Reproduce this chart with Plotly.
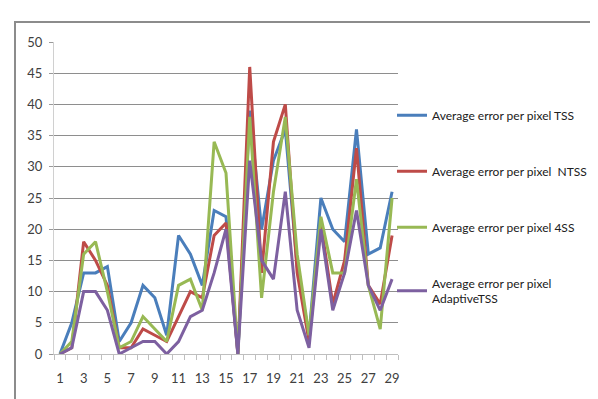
import plotly.graph_objects as go

frames = list(range(1, 30))
tss = [0, 5, 13, 13, 14, 2, 5, 11, 9, 3, 19, 16, 11, 23, 22, 0, 39, 20, 31, 36, 14, 3, 25, 20, 18, 36, 16, 17, 26]
ntss = [0, 1, 18, 15, 11, 1, 1, 4, 3, 2, 6, 10, 9, 19, 21, 0, 46, 13, 34, 40, 13, 2, 21, 8, 15, 33, 11, 8, 19]
fss = [0, 2, 16, 18, 10, 1, 2, 6, 4, 2, 11, 12, 7, 34, 29, 0, 38, 9, 26, 38, 16, 3, 22, 13, 13, 28, 11, 4, 25]
adaptive = [0, 1, 10, 10, 7, 0, 1, 2, 2, 0, 2, 6, 7, 13, 20, 0, 31, 15, 12, 26, 7, 1, 20, 7, 13, 23, 11, 7, 12]

names = [
    "Average error per pixel TSS",
    "Average error per pixel\u00a0\u00a0NTSS",
    "Average error per pixel 4SS",
    "Average error per pixel<br>AdaptiveTSS",
]
colors = ["#4A7EBB", "#BE4B48", "#98B954", "#7D60A0"]
series = [tss, ntss, fss, adaptive]

xtick_vals = list(range(1, 30, 2))
ytick_vals = list(range(0, 51, 5))

FONT = "Lato, Liberation Sans, sans-serif"

fig = go.Figure()
for i, (nm, col, ys) in enumerate(zip(names, colors, series)):
    fig.add_trace(go.Scatter(
        x=frames, y=ys, name=nm, mode="lines",
        line=dict(color=col, width=3),
        legendgroup=f"g{i}",
    ))

fig.update_layout(
    width=598, height=399,
    margin=dict(l=46, r=208, t=34, b=53, autoexpand=False),
    paper_bgcolor="white", plot_bgcolor="white",
    font=dict(family=FONT, size=13, color="#404040"),
    showlegend=True,
    legend=dict(
        x=(384 - 46) / 344, xanchor="left", y=0.812, yanchor="top",
        font=dict(family=FONT, size=12, color="#202020"),
        tracegroupgap=37, bgcolor="rgba(0,0,0,0)",
    ),
    xaxis=dict(
        range=[0.5, 29.5], tickvals=xtick_vals, ticktext=[str(v) for v in xtick_vals],
        ticks="", showgrid=False, zeroline=False,
        showline=True, linecolor="#BFBFBF", linewidth=1,
        ticklabelstandoff=12,
        tickfont=dict(family=FONT, size=13, color="#404040"),
        minor=dict(tickvals=[v + 0.5 for v in range(0, 30)], ticks="outside",
                   ticklen=5, tickcolor="#BFBFBF", tickwidth=1, showgrid=False),
    ),
    yaxis=dict(
        range=[0, 50], tickvals=ytick_vals, ticks="outside", ticklen=4,
        tickcolor="#9a9a9a", showgrid=True, gridcolor="#8E8E8E", gridwidth=1,
        zeroline=False, showline=True, linecolor="#D0D0D0", linewidth=1,
        ticklabelstandoff=4,
        tickfont=dict(family=FONT, size=13, color="#404040"),
    ),
    shapes=[dict(
        type="rect", xref="paper", yref="paper",
        x0=(7 - 46) / 344, x1=(605 - 46) / 344,
        y0=(346 - 410) / 312, y1=(346 - 14) / 312,
        line=dict(color="#8C8C8C", width=2), fillcolor="rgba(0,0,0,0)",
        layer="below",
    )],
)

fig.write_html("out.html")
